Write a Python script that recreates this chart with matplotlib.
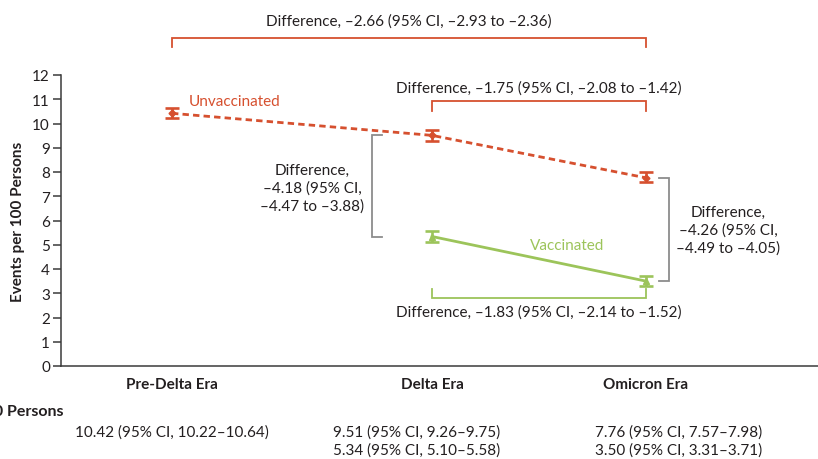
import matplotlib
matplotlib.use("Agg")
import matplotlib.pyplot as plt
import numpy as np

# ---- data ----
eras = ["Pre-Delta Era", "Delta Era", "Omicron Era"]
unvacc_rate = [10.42, 9.51, 7.76]
unvacc_lo = [10.22, 9.26, 7.57]
unvacc_hi = [10.64, 9.75, 7.98]
vacc_rate = [np.nan, 5.34, 3.50]
vacc_lo = [np.nan, 5.10, 3.31]
vacc_hi = [np.nan, 5.58, 3.71]
y_ticks = list(range(0, 13))

diff_unvacc_pre_omicron = "Difference, \u20132.66 (95% CI, \u20132.93 to \u20132.36)"
diff_unvacc_delta_omicron = "Difference, \u20131.75 (95% CI, \u20132.08 to \u20131.42)"
diff_vacc_delta_omicron = "Difference, \u20131.83 (95% CI, \u20132.14 to \u20131.52)"
diff_delta = "Difference,\n\u20134.18 (95% CI,\n\u20134.47 to \u20133.88)"
diff_omicron = "Difference,\n\u20134.26 (95% CI,\n\u20134.49 to \u20134.05)"

# ---- style ----
RED = "#D6502F"
GREEN = "#9CC45A"
GRAY = "#8C8C8C"
INK = "#231F20"
FONT = "Lato"
FS = 11

plt.rcParams["font.family"] = [FONT, "DejaVu Sans"]

W, H = 818, 460
fig = plt.figure(figsize=(W / 100, H / 100), dpi=100)

# axes in figure pixels: left spine at x=61, y=0 at 367 px, y=12 at 76 px
ax_left, ax_right = 61, 818
ax_bottom_px, ax_top_px = 367, 76
ax = fig.add_axes([ax_left / W, (H - ax_bottom_px) / H,
                   (ax_right - ax_left) / W, (ax_bottom_px - ax_top_px) / H])
ax.set_xlim(ax_left, ax_right)
ax.set_ylim(0, 12)

# horizontal placement of the eras along the axis
era_x = [172, 432, 646]

# unvaccinated series
ax.plot(era_x, unvacc_rate, color=RED, lw=2.0, linestyle=(0, (2.3, 1.5)),
        zorder=3, clip_on=False)
ax.errorbar(era_x, unvacc_rate,
            yerr=[np.subtract(unvacc_rate, unvacc_lo), np.subtract(unvacc_hi, unvacc_rate)],
            fmt="D", ms=3.5, color=RED, ecolor=RED, elinewidth=1.9, capsize=5.2,
            capthick=1.9, zorder=4, clip_on=False)

# vaccinated series
ax.plot(era_x, vacc_rate, color=GREEN, lw=2.0, zorder=3)
ax.errorbar(era_x, vacc_rate,
            yerr=[np.subtract(vacc_rate, vacc_lo), np.subtract(vacc_hi, vacc_rate)],
            fmt="^", ms=4, color=GREEN, ecolor=GREEN, elinewidth=1.9, capsize=5.2,
            capthick=1.9, zorder=4)

# series labels
ax.text(189, 10.93, "Unvaccinated", color=RED, fontsize=FS, ha="left", va="center")
ax.text(530, 5.0, "Vaccinated", color=GREEN, fontsize=FS, ha="left", va="center")

# axes styling
for s in ("top", "right"):
    ax.spines[s].set_visible(False)
for s in ("left", "bottom"):
    ax.spines[s].set_color("#3a3a3a")
    ax.spines[s].set_linewidth(1.1)
ax.set_yticks(y_ticks)
ax.set_yticklabels([str(t) for t in y_ticks], fontsize=FS, color=INK)
ax.tick_params(axis="y", length=6, width=1.1, color="#3a3a3a", pad=2)
ax.set_xticks(era_x)
ax.set_xticklabels(eras, fontsize=FS, fontweight="bold", color=INK)
ax.tick_params(axis="x", length=0, pad=8)
ax.set_ylabel("Events per 100 Persons", fontsize=FS, fontweight="bold", color=INK,
              labelpad=5)


def px_to_y(py):
    return (ax_bottom_px - py) / (ax_bottom_px - ax_top_px) * 12


def bracket(x0, x1, y_line, y_end, color):
    ax.plot([x0, x0, x1, x1], [y_end, y_line, y_line, y_end], color=color, lw=1.3,
            clip_on=False, solid_joinstyle="miter", zorder=2)


# horizontal comparison brackets
bracket(era_x[0], era_x[2], px_to_y(39), px_to_y(48), RED)
ax.text((era_x[0] + era_x[2]) / 2, px_to_y(22), diff_unvacc_pre_omicron,
        fontsize=FS, color=INK, ha="center", va="center")

bracket(era_x[1], era_x[2], px_to_y(102), px_to_y(112), RED)
ax.text((era_x[1] + era_x[2]) / 2, px_to_y(89), diff_unvacc_delta_omicron,
        fontsize=FS, color=INK, ha="center", va="center")

bracket(era_x[1], era_x[2], px_to_y(299), px_to_y(290), GREEN)
ax.text((era_x[1] + era_x[2]) / 2, px_to_y(313), diff_vacc_delta_omicron,
        fontsize=FS, color=INK, ha="center", va="center")

# vertical comparison brackets (vaccinated vs unvaccinated)
ax.plot([382, 372, 372, 382], [unvacc_rate[1], unvacc_rate[1], vacc_rate[1], vacc_rate[1]],
        color=GRAY, lw=1.3, solid_joinstyle="miter", zorder=2)
ax.text(312, px_to_y(189), diff_delta, fontsize=FS, color=INK, ha="center",
        va="center", linespacing=1.3)

ax.plot([659, 669, 669, 659], [unvacc_rate[2], unvacc_rate[2], vacc_rate[2], vacc_rate[2]],
        color=GRAY, lw=1.3, solid_joinstyle="miter", zorder=2)
ax.text(728, px_to_y(231), diff_omicron, fontsize=FS, color=INK, ha="center",
        va="center", linespacing=1.3)

# table of rates below the axis
fig.text(64 / W, 1 - 412 / H, "Events per 100 Persons", fontsize=11.5, fontweight="bold",
         color=INK, ha="right", va="center")
row_y = [433, 451]
col_left = [75, 333, 595]
for i in range(len(eras)):
    rows = [(unvacc_rate[i], unvacc_lo[i], unvacc_hi[i]),
            (vacc_rate[i], vacc_lo[i], vacc_hi[i])]
    for (r, lo, hi), yy in zip(rows, row_y):
        if np.isnan(r):
            continue
        fig.text(col_left[i] / W, 1 - yy / H,
                 f"{r:.2f} (95% CI, {lo:.2f}\u2013{hi:.2f})",
                 fontsize=FS, color=INK, ha="left", va="center")

fig.savefig("out.png", dpi=100)
